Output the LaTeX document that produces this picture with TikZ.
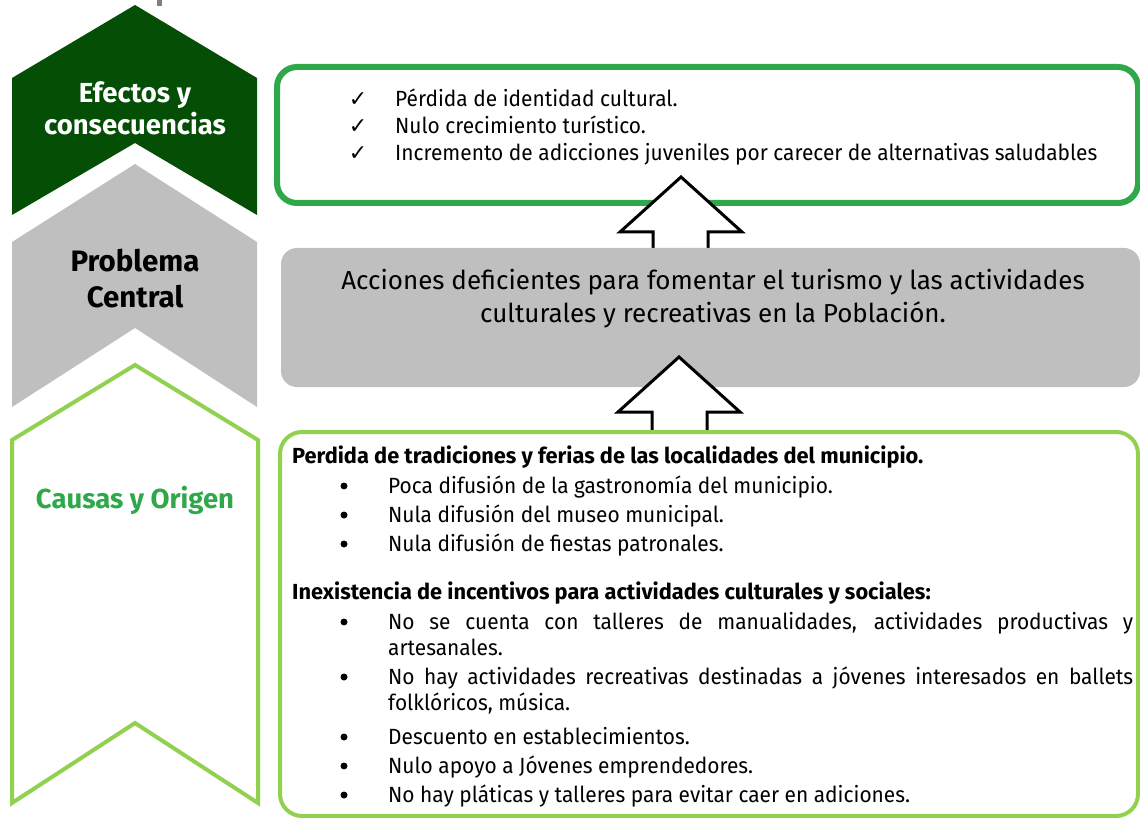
\documentclass[tikz,border=0pt]{standalone}
\usepackage{fontspec}
\setmainfont{Fira Sans}
\newfontfamily\narrowfont[FakeStretch=0.95]{Fira Sans}
\newfontfamily\symfont{DejaVu Sans}
\usetikzlibrary{calc}
\definecolor{dkgreen}{RGB}{5,78,5}
\definecolor{midgreen}{RGB}{46,168,74}
\definecolor{ltgreen}{RGB}{146,208,80}
\definecolor{boxgray}{RGB}{191,191,191}
\definecolor{markgray}{RGB}{128,128,128}
\tikzset{
  lbl/.style={font=\fontsize{27.5}{32}\selectfont\bfseries, inner sep=0pt, anchor=base},
  lblb/.style={font=\fontsize{29.5}{34}\selectfont\bfseries, inner sep=0pt, anchor=base},
  effline/.style={font=\narrowfont\fontsize{22}{26}\selectfont, inner sep=0pt, anchor=base west},
  causeline/.style={font=\narrowfont\fontsize{22}{26}\selectfont, inner sep=0pt, anchor=base west},
  causehead/.style={font=\fontsize{21.8}{26}\selectfont\bfseries, inner sep=0pt, anchor=base west},
  bul/.style={circle, fill=black, inner sep=0pt, minimum size=7pt},
  chk/.style={font=\symfont\fontsize{22}{24}\selectfont, inner sep=0pt, anchor=base},
  probtext/.style={font=\fontsize{26}{33}\selectfont, inner sep=0pt, anchor=base},
  blockarrow/.style={draw=black, line width=3pt, line join=miter}
}
\begin{document}
\begin{tikzpicture}[x=1pt,y=-1pt]
\useasboundingbox (0,0) rectangle (1140,818);
% small cropped mark at top
\fill[markgray] (157,0) rectangle (162,6);
% chevrons
\fill[dkgreen] (12,78) -- (135,5) -- (257,78) -- (257,215) -- (135,143) -- (12,215) -- cycle;
\fill[boxgray] (12,242) -- (135,164) -- (257,242) -- (257,407) -- (135,328) -- (12,407) -- cycle;
\draw[ltgreen, line width=4pt, line join=miter] (12,440) -- (135,365) -- (258,440) -- (258,803) -- (135,723) -- (12,803) -- cycle;
% chevron labels
\node[lbl, text=white] (efa) at (135,103) {Efectos y};
\node[lbl, text=white] (efb) at (135,135) {consecuencias};
\node[lblb, text=black] (pca) at (135,272) {Problema};
\node[lblb, text=black] (pcb) at (135,307) {Central};
\node[lbl, text=midgreen] (cau) at (135,508) {Causas y Origen};
% boxes
\node[draw=midgreen, line width=6pt, rounded corners=20pt, minimum width=861pt, minimum height=136pt, inner sep=0pt] (effbox) at (707.5,135) {};
% arrow from problem to effects
\coordinate (a1) at (681,248);
\path[fill=white] ($(a1)+(-28,0)$) -- ($(a1)+(-28,-16)$) -- ($(a1)+(-61,-16)$) -- ($(a1)+(0,-71)$) -- ($(a1)+(61,-16)$) -- ($(a1)+(27,-16)$) -- ($(a1)+(27,0)$) -- cycle;
\draw[blockarrow] ($(a1)+(-28,0)$) -- ($(a1)+(-28,-16)$) -- ($(a1)+(-61,-16)$) -- ($(a1)+(0,-71)$) -- ($(a1)+(61,-16)$) -- ($(a1)+(27,-16)$) -- ($(a1)+(27,0)$);
\node[fill=boxgray, rounded corners=16pt, minimum width=859pt, minimum height=139pt, inner sep=0pt] (probbox) at (710.5,317.5) {};
% arrow from causes to problem
\coordinate (a2) at (679,431);
\path[fill=white] ($(a2)+(-27,0)$) -- ($(a2)+(-27,-19)$) -- ($(a2)+(-61,-19)$) -- ($(a2)+(0,-74)$) -- ($(a2)+(61,-19)$) -- ($(a2)+(28,-19)$) -- ($(a2)+(28,0)$) -- cycle;
\draw[blockarrow] ($(a2)+(-27,0)$) -- ($(a2)+(-27,-19)$) -- ($(a2)+(-61,-19)$) -- ($(a2)+(0,-74)$) -- ($(a2)+(61,-19)$) -- ($(a2)+(28,-19)$) -- ($(a2)+(28,0)$);
\node[draw=ltgreen, line width=4pt, rounded corners=22pt, minimum width=858pt, minimum height=384pt, inner sep=0pt] (causebox) at (709,624) {};
% effects text
\node[chk] (c1) at (358,107) {✓};
\node[effline] (e1) at (395,107) {Pérdida de identidad cultural.};
\node[chk] (c2) at (358,134) {✓};
\node[effline] (e2) at (395,134) {Nulo crecimiento turístico.};
\node[chk] (c3) at (358,161) {✓};
\node[effline] (e3) at (395,161) {Incremento de adicciones juveniles por carecer de alternativas saludables};
% problem text
\node[probtext] (pt1) at (713,290) {Acciones deficientes para fomentar el turismo y las actividades};
\node[probtext] (pt2) at (713,323) {culturales y recreativas en la Población.};
% causes text
\node[causehead] (h1) at (292,463) {Perdida de tradiciones y ferias de las localidades del municipio.};
\node[bul] (b1) at (344,486) {};
\node[causeline] (l1) at (388,493) {Poca difusión de la gastronomía del municipio.};
\node[bul] (b2) at (344,515) {};
\node[causeline] (l2) at (388,522) {Nula difusión del museo municipal.};
\node[bul] (b3) at (344,544) {};
\node[causeline] (l3) at (388,551) {Nula difusión de fiestas patronales.};
\node[causehead] (h2) at (292,599) {Inexistencia de incentivos para actividades culturales y sociales:};
\node[bul] (b4) at (344,622) {};
\node[causeline] (l4) at (388,629) {\makebox[745pt][s]{No se cuenta con talleres de manualidades, actividades productivas y}};
\node[causeline] (l4b) at (388,655) {artesanales.};
\node[bul] (b5) at (344,677) {};
\node[causeline] (l5) at (388,684) {\makebox[745pt][s]{No hay actividades recreativas destinadas a jóvenes interesados en ballets}};
\node[bul] (b6) at (344,737) {};
\node[causeline] (l5b) at (388,710) {folklóricos, música.};
\node[causeline] (l6) at (388,744) {Descuento en establecimientos.};
\node[bul] (b7) at (344,766) {};
\node[causeline] (l7) at (388,773) {Nulo apoyo a Jóvenes emprendedores.};
\node[bul] (b8) at (344,795) {};
\node[causeline] (l8) at (388,802) {No hay pláticas y talleres para evitar caer en adiciones.};
\end{tikzpicture}
\end{document}
